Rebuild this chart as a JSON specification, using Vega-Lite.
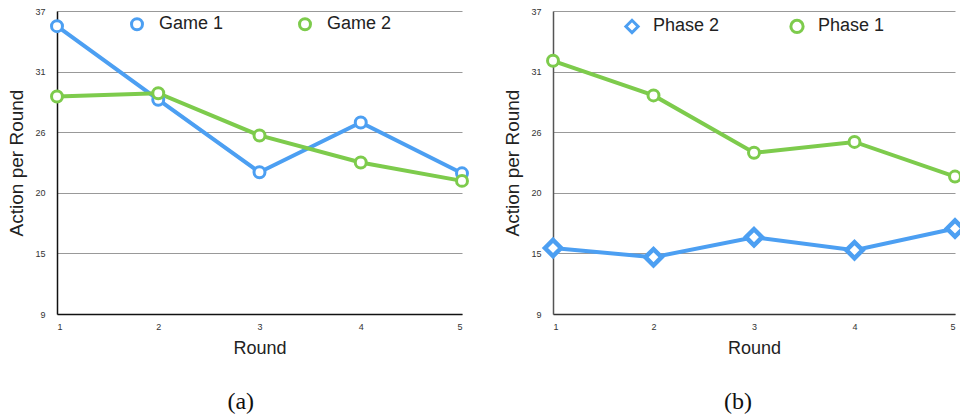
{
  "$schema": "https://vega.github.io/schema/vega-lite/v6.json",
  "padding": {"left": 7, "top": 7, "right": 0, "bottom": 0},
  "background": "white",
  "config": {
    "view": {"stroke": null},
    "font": "Liberation Sans",
    "axis": {"labelFont": "Liberation Sans", "titleFont": "Liberation Sans", "titleFontWeight": "normal", "titleColor": "#222", "labelColor": "#333"},
    "legend": {"labelFont": "Liberation Sans", "labelFontSize": 18, "labelColor": "#222"}
  },
  "datasets": {
    "pts": [
      {"panel": "a", "series": "Game 1", "round": 1, "value": 35.6},
      {"panel": "a", "series": "Game 1", "round": 2, "value": 28.8},
      {"panel": "a", "series": "Game 1", "round": 3, "value": 22.1},
      {"panel": "a", "series": "Game 1", "round": 4, "value": 26.7},
      {"panel": "a", "series": "Game 1", "round": 5, "value": 22.0},
      {"panel": "a", "series": "Game 2", "round": 1, "value": 29.1},
      {"panel": "a", "series": "Game 2", "round": 2, "value": 29.4},
      {"panel": "a", "series": "Game 2", "round": 3, "value": 25.5},
      {"panel": "a", "series": "Game 2", "round": 4, "value": 23.0},
      {"panel": "a", "series": "Game 2", "round": 5, "value": 21.3},
      {"panel": "b", "series": "Phase 1", "round": 1, "value": 32.4},
      {"panel": "b", "series": "Phase 1", "round": 2, "value": 29.2},
      {"panel": "b", "series": "Phase 1", "round": 3, "value": 23.9},
      {"panel": "b", "series": "Phase 1", "round": 4, "value": 24.9},
      {"panel": "b", "series": "Phase 1", "round": 5, "value": 21.7},
      {"panel": "b", "series": "Phase 2", "round": 1, "value": 15.1},
      {"panel": "b", "series": "Phase 2", "round": 2, "value": 14.25},
      {"panel": "b", "series": "Phase 2", "round": 3, "value": 16.1},
      {"panel": "b", "series": "Phase 2", "round": 4, "value": 14.9},
      {"panel": "b", "series": "Phase 2", "round": 5, "value": 16.9}
    ]
  },
  "data": {"name": "pts"},
  "spacing": 29,
  "resolve": {"scale": {"color": "independent", "shape": "independent", "x": "independent", "y": "independent"}, "legend": {"color": "independent", "shape": "independent"}},
  "hconcat": [
    {
      "width": 405,
      "height": 303,
      "title": {"text": "(a)", "orient": "bottom", "font": "Liberation Serif", "fontSize": 24, "fontWeight": "normal", "color": "#111", "offset": 33, "frame": "bounds", "anchor": "middle"},
      "transform": [{"filter": "datum.panel == 'a'"}],
      "encoding": {
        "x": {"field": "round", "type": "quantitative", "scale": {"domain": [1, 5], "nice": false, "zero": false},
          "axis": {"title": "Round", "values": [1, 2, 3, 4, 5], "format": "d", "grid": false, "ticks": false, "labelFontSize": 9, "labelPadding": 8, "titleFontSize": 18, "titlePadding": 8, "domainColor": "#111", "domainWidth": 1.5}},
        "y": {"field": "value", "type": "quantitative", "scale": {"domain": [9, 37], "nice": false, "zero": false},
          "axis": {"title": "Action per Round", "values": [9, 14.6, 20.2, 25.8, 31.4, 37], "format": ".0f", "grid": true, "gridColor": "#999999", "ticks": false, "labelFontSize": 9, "labelPadding": 12, "titleFontSize": 19, "titlePadding": 8, "domainColor": "#111", "domainWidth": 1.5}},
        "color": {"field": "series", "type": "nominal", "scale": {"domain": ["Game 1", "Game 2"], "range": ["#4c9ff2", "#7dcb4c"]},
          "legend": {"title": null, "orient": "none", "legendX": 71, "legendY": 4, "direction": "horizontal", "columnPadding": 69, "labelOffset": 13, "symbolType": "circle", "symbolSize": 120, "symbolStrokeWidth": 3, "symbolFillColor": "white"}}
      },
      "layer": [
        {"mark": {"type": "line", "strokeWidth": 4}},
        {"mark": {"type": "point", "shape": "circle", "filled": false, "fill": "white", "size": 120, "strokeWidth": 3, "opacity": 1}}
      ]
    },
    {
      "width": 402,
      "height": 303,
      "title": {"text": "(b)", "orient": "bottom", "font": "Liberation Serif", "fontSize": 24, "fontWeight": "normal", "color": "#111", "offset": 33, "frame": "bounds", "anchor": "middle"},
      "transform": [{"filter": "datum.panel == 'b'"}],
      "encoding": {
        "x": {"field": "round", "type": "quantitative", "scale": {"domain": [1, 5], "nice": false, "zero": false},
          "axis": {"title": "Round", "values": [1, 2, 3, 4, 5], "format": "d", "grid": false, "ticks": false, "labelFontSize": 9, "labelPadding": 8, "titleFontSize": 18, "titlePadding": 8, "domainColor": "#333", "domainWidth": 1.5}},
        "y": {"field": "value", "type": "quantitative", "scale": {"domain": [9, 37], "nice": false, "zero": false},
          "axis": {"title": "Action per Round", "values": [9, 14.6, 20.2, 25.8, 31.4, 37], "format": ".0f", "grid": true, "gridColor": "#999999", "ticks": false, "labelFontSize": 9, "labelPadding": 12, "titleFontSize": 19, "titlePadding": 8, "domainColor": "#555", "domainWidth": 1.5}}
      },
      "layer": [
        {"transform": [{"filter": "datum.series == 'Phase 1'"}],
          "mark": {"type": "line", "strokeWidth": 4, "color": "#7dcb4c"}, "encoding": {}},
        {"transform": [{"filter": "datum.series == 'Phase 2'"}],
          "mark": {"type": "line", "strokeWidth": 4, "color": "#4c9ff2"}, "encoding": {}},
        {"transform": [{"filter": "datum.series == 'Phase 1'"}],
          "mark": {"type": "point", "filled": false, "fill": "white", "opacity": 1, "size": 120, "strokeWidth": 3},
          "encoding": {
            "color": {"field": "series", "type": "nominal", "scale": {"domain": ["Phase 2", "Phase 1"], "range": ["#4c9ff2", "#7dcb4c"]},
              "legend": {"title": null, "orient": "none", "legendX": 70, "legendY": 6, "direction": "horizontal", "columnPadding": 64, "labelOffset": 12, "symbolSize": 150, "symbolStrokeWidth": 3, "symbolFillColor": "white"}},
            "shape": {"field": "series", "type": "nominal", "scale": {"domain": ["Phase 2", "Phase 1"], "range": ["diamond", "circle"]},
              "legend": {"title": null, "orient": "none", "legendX": 70, "legendY": 6, "direction": "horizontal", "columnPadding": 64, "labelOffset": 12, "symbolSize": 150, "symbolStrokeWidth": 3, "symbolFillColor": "white"}}
          }
        },
        {"transform": [{"filter": "datum.series == 'Phase 2'"}],
          "mark": {"type": "point", "filled": false, "fill": "white", "opacity": 1, "size": 260, "strokeWidth": 4.5},
          "encoding": {
            "color": {"field": "series", "type": "nominal", "scale": {"domain": ["Phase 2", "Phase 1"], "range": ["#4c9ff2", "#7dcb4c"]},
              "legend": {"title": null, "orient": "none", "legendX": 70, "legendY": 6, "direction": "horizontal", "columnPadding": 64, "labelOffset": 12, "symbolSize": 150, "symbolStrokeWidth": 3, "symbolFillColor": "white"}},
            "shape": {"field": "series", "type": "nominal", "scale": {"domain": ["Phase 2", "Phase 1"], "range": ["diamond", "circle"]},
              "legend": {"title": null, "orient": "none", "legendX": 70, "legendY": 6, "direction": "horizontal", "columnPadding": 64, "labelOffset": 12, "symbolSize": 150, "symbolStrokeWidth": 3, "symbolFillColor": "white"}}
          }
        }
      ]
    }
  ]
}
